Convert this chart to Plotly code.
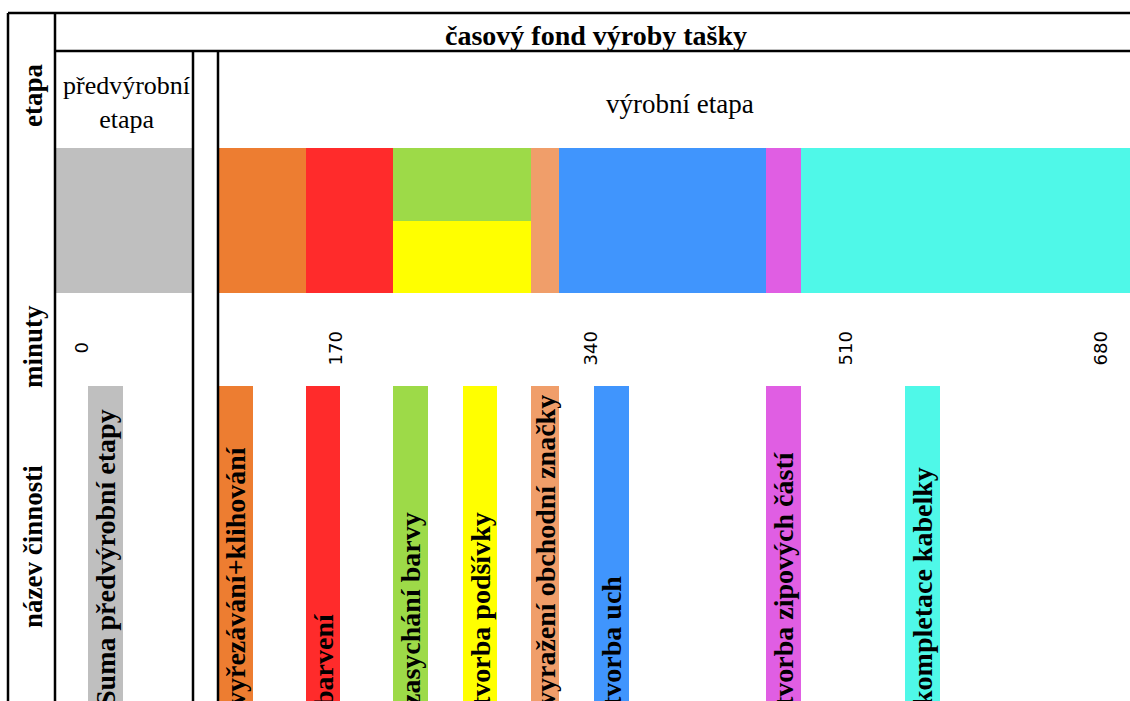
import plotly.graph_objects as go

W, H = 1130, 701

# ---------------- data ----------------
title_text = "časový fond výroby tašky"
stage_names = ["předvýrobní<br>etapa", "výrobní etapa"]
row_names = ["etapa", "minuty", "název činnosti"]

pre_label = "Suma předvýrobní etapy"
pre_duration = 92          # minutes (pre-production total)
pre_color = "#BFBFBF"

activities = ["vyřezávání+klihování", "barvení", "zasychání barvy", "tvorba podšívky",
              "vyražení obchodní značky", "tvorba uch", "tvorba zipových částí",
              "kompletace kabelky"]
durations = [58, 58, 91, 91, 19, 137, 23, 240]          # minutes
parallel = [False, False, False, True, False, False, False, False]  # runs alongside previous
colors = ["#ED7D31", "#FF2B2B", "#9DDA48", "#FFFF00", "#F09E6A",
          "#4095FD", "#E05EE3", "#4FF8E8"]

minute_ticks = [0, 170, 340, 510, 680]
minute_labels = [str(v) for v in minute_ticks]

# placement of name tags relative to activity start (minutes)
tag_offset = [0, 0, 0, 46, 0, 23, 0, 69]
pre_tag_offset = 22
tag_len = 23

# ---------------- derived ----------------
starts = []
t = 0
for d, par in zip(durations, parallel):
    if par:
        starts.append(starts[-1])
    else:
        starts.append(t)
        t += d

ycent, ywid = [], []
for i in range(len(durations)):
    if i + 1 < len(durations) and parallel[i + 1]:
        ycent.append(1.5); ywid.append(1.0)
    elif parallel[i]:
        ycent.append(0.5); ywid.append(1.0)
    else:
        ycent.append(1.0); ywid.append(2.0)

def px(x):
    return x / W

def py(y):
    return 1 - y / H

fig = go.Figure()

# top timeline: pre-production
fig.add_trace(go.Bar(orientation="h", y=[1], x=[pre_duration], base=[0], width=[2],
                     marker=dict(color=pre_color, line=dict(width=0)),
                     xaxis="x", yaxis="y", showlegend=False, hoverinfo="skip"))
# top timeline: production activities
for i, name in enumerate(activities):
    fig.add_trace(go.Bar(orientation="h", y=[ycent[i]], x=[durations[i]], base=[starts[i]],
                         width=[ywid[i]], marker=dict(color=colors[i], line=dict(width=0)),
                         xaxis="x2", yaxis="y", showlegend=False, name=name, hoverinfo="skip"))

tag_font = dict(family="Liberation Serif", size=28, color="black", weight="bold")

# bottom name tags
fig.add_trace(go.Bar(x=[pre_tag_offset], y=[1], width=[tag_len], offset=0,
                     marker=dict(color=pre_color, line=dict(width=0)),
                     text=[pre_label], textposition="inside", insidetextanchor="start",
                     textangle=-90, constraintext="none", textfont=tag_font,
                     xaxis="x", yaxis="y3", showlegend=False, hoverinfo="skip"))
for i, name in enumerate(activities):
    fig.add_trace(go.Bar(x=[starts[i] + tag_offset[i]], y=[1],
                         width=[min(tag_len, durations[i])], offset=0,
                         marker=dict(color=colors[i], line=dict(width=0)),
                         text=[name], textposition="inside", insidetextanchor="start",
                         textangle=-90, constraintext="none", textfont=tag_font,
                         xaxis="x2", yaxis="y3", showlegend=False, hoverinfo="skip"))

# minute scale helper trace (invisible)
fig.add_trace(go.Scatter(x=minute_ticks, y=[0.5] * len(minute_ticks), mode="markers",
                         marker=dict(opacity=0), xaxis="x3", yaxis="y4",
                         showlegend=False, hoverinfo="skip"))

hidden = dict(showgrid=False, zeroline=False, showticklabels=False, showline=False,
              ticks="", fixedrange=True)

prod_range = 604
fig.update_layout(
    width=W, height=H, autosize=False,
    margin=dict(l=0, r=0, t=0, b=0),
    paper_bgcolor="white", plot_bgcolor="rgba(0,0,0,0)",
    bargap=0, barmode="overlay",
    xaxis=dict(domain=[px(55), px(193)], range=[0, pre_duration], anchor="y", **hidden),
    xaxis2=dict(domain=[px(218), 1], range=[0, prod_range], anchor="y", **hidden),
    xaxis3=dict(domain=[px(55), 1], range=[-17, 699.7], anchor="y4", **hidden),
    yaxis=dict(domain=[py(293), py(148)], range=[0, 2], anchor="x", **hidden),
    yaxis3=dict(domain=[0, py(386)], range=[0.025, 1], anchor="x", **hidden),
    yaxis4=dict(domain=[py(386), py(293)], range=[0, 1], anchor="x3", **hidden),
)

serif = "Liberation Serif"
base_ann = dict(showarrow=False, xanchor="center", yanchor="middle")
ann = []
ann.append(dict(text=title_text, x=px(596), y=py(35), xref="paper", yref="paper",
                font=dict(family=serif, size=28, color="black", weight="bold"), **base_ann))
ann.append(dict(text=stage_names[0], x=px(126), y=py(102), xref="paper", yref="paper",
                font=dict(family=serif, size=26, color="black"), **base_ann))
ann.append(dict(text=stage_names[1], x=px(680), y=py(104), xref="paper", yref="paper",
                font=dict(family=serif, size=27, color="black"), **base_ann))
for name, yc in zip(row_names, [96, 347, 547]):
    ann.append(dict(text=name, x=px(33), y=py(yc), xref="paper", yref="paper",
                    textangle=-90,
                    font=dict(family=serif, size=27, color="black", weight="bold"), **base_ann))
for v, lab in zip(minute_ticks, minute_labels):
    ann.append(dict(text=lab, x=v, y=py(348), xref="x3", yref="paper", textangle=-90,
                    font=dict(family="DejaVu Sans", size=18, color="black"), **base_ann))
fig.update_layout(annotations=ann)

lw = 2.5
lines = [
    (8, 13, W, 13),
    (55, 51, W, 51),
    (8, 13, 8, H),
    (55, 13, 55, H),
    (193, 51, 193, H),
    (218, 51, 218, H),
]
fig.update_layout(shapes=[dict(type="line", xref="paper", yref="paper",
                               x0=px(a), y0=py(b), x1=px(c), y1=py(d),
                               line=dict(color="black", width=lw)) for a, b, c, d in lines])

fig.write_html("out.html")
